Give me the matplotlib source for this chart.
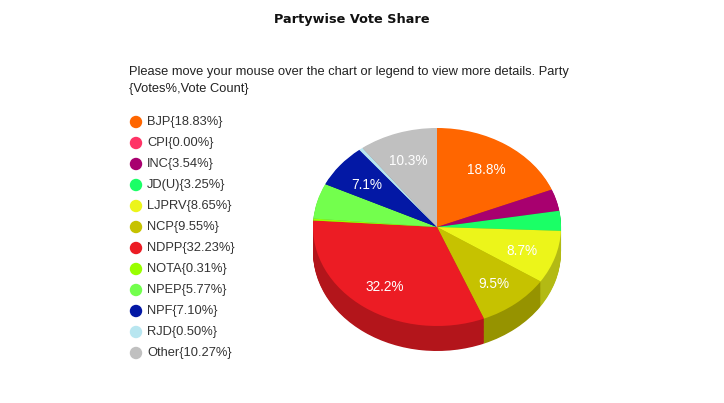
import numpy as np
import matplotlib
matplotlib.use('Agg')
import matplotlib.pyplot as plt
from matplotlib.colors import to_rgb

plt.rcParams['font.family'] = ['Liberation Sans', 'DejaVu Sans']

# data (clockwise from 12 o'clock)
parties = ['BJP', 'CPI', 'INC', 'JD(U)', 'LJPRV', 'NCP', 'NDPP', 'NOTA',
           'NPEP', 'NPF', 'RJD', 'Other']
vote_share = [18.83, 0.00, 3.54, 3.25, 8.652, 9.548, 32.23, 0.31,
              5.77, 7.10, 0.50, 10.27]
party_colors = ['#ff6600', '#ff3366', '#a8006f', '#1aff66', '#ecf51a', '#c6c200',
                '#ec1c24', '#99ff00', '#73ff4d', '#0318a5', '#b8e6f0', '#c0c0c0']

title = 'Partywise Vote Share'
subtitle = ['Please move your mouse over the chart or legend to view more details. Party',
            '{Votes%,Vote Count}']

W, H = 724, 403
fig = plt.figure(figsize=(W / 100, H / 100), dpi=100)

# pie geometry in pixels
cx, cy, rx, ry, depth_px = 437, 227, 124, 99, 25
depth = depth_px / ry

ax = fig.add_axes([(cx - rx) / W, (H - (cy + ry + depth_px)) / H,
                   2 * rx / W, (2 * ry + depth_px) / H])

# side wall: stack of darker pies shifted downwards
dark = [tuple(c * 0.76 for c in to_rgb(col)) for col in party_colors]
n_layers = 30
for k in range(n_layers):
    d = depth * (1 - k / n_layers)
    ax.pie(vote_share, colors=dark, startangle=90, counterclock=False,
           center=(0, -d), wedgeprops=dict(linewidth=0))


def pct_label(p):
    return f'{p:.1f}%' if p > 6 else ''


wedges, texts, autotexts = ax.pie(
    vote_share, colors=party_colors, startangle=90, counterclock=False,
    autopct=pct_label, pctdistance=0.72,
    textprops=dict(color='white', fontsize=9.8),
    wedgeprops=dict(linewidth=0))
for t in autotexts:
    x, y = t.get_position()
    t.set_position((x, y - 0.02))

ax.set_aspect('auto')
ax.set_xlim(-1, 1)
ax.set_ylim(-1 - depth, 1)

# overlay for text and legend, in pixel coordinates
ov = fig.add_axes([0, 0, 1, 1], facecolor='none')
ov.set_xlim(0, W)
ov.set_ylim(H, 0)
ov.axis('off')

ov.text(352, 19, title, ha='center', va='center', fontsize=9.3,
        fontweight='bold', color='#111111', family='DejaVu Sans')
for i, line in enumerate(subtitle):
    ov.text(129, 72 + 17 * i, line, ha='left', va='center', fontsize=9.3,
            color='#222222')

for i, (name, val, col) in enumerate(zip(parties, vote_share, party_colors)):
    y = 122 + 21 * i
    ov.scatter([136], [y], s=80, color=col, edgecolors='none')
    ov.text(147, y, f'{name}{{{val:.2f}%}}', ha='left', va='center',
            fontsize=9.3, color='#333333')

fig.savefig('out.png', dpi=100)
